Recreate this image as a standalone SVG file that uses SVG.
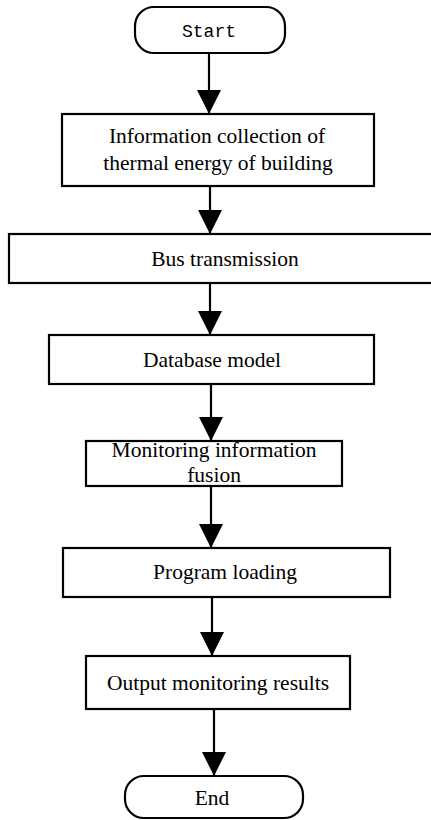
<svg xmlns="http://www.w3.org/2000/svg" width="431" height="820" viewBox="0 0 431 820">
<defs>
<marker id="ah" markerWidth="11" markerHeight="11" refX="11" refY="5.5" orient="auto" markerUnits="strokeWidth">
<path d="M0,0 L11,5.5 L0,11 Z" fill="#000"/>
</marker>
</defs>
<style>
.box{fill:#fff;stroke:#000;stroke-width:2.2}
.t{font-family:"Liberation Serif","Times New Roman",serif;font-size:21.5px;fill:#000;text-anchor:middle}
.m{font-family:"Liberation Mono","Courier New",monospace;font-size:18px;fill:#000;text-anchor:middle}
.c{stroke:#000;stroke-width:2.2;fill:none;marker-end:url(#ah)}
</style>
<rect width="431" height="820" fill="#fff"/>
<g id="connectors">
<line class="c" x1="209" y1="53" x2="209" y2="114"/>
<line class="c" x1="210" y1="186" x2="210" y2="234"/>
<line class="c" x1="210" y1="283" x2="210" y2="335"/>
<line class="c" x1="211" y1="384" x2="211" y2="441"/>
<line class="c" x1="211" y1="486" x2="211" y2="548"/>
<line class="c" x1="212" y1="597" x2="212" y2="656"/>
<line class="c" x1="214" y1="709" x2="214" y2="776"/>
</g>
<g id="start">
<rect class="box" x="135" y="7" width="150" height="46" rx="19"/>
<text class="m" x="209" y="37">Start</text>
</g>
<g id="info">
<rect class="box" x="62" y="114" width="312" height="72"/>
<text class="t" x="217" y="143">Information collection of</text>
<text class="t" x="218" y="170">thermal energy of building</text>
</g>
<g id="bus">
<rect class="box" x="9" y="234" width="425" height="49"/>
<text class="t" x="225" y="266">Bus transmission</text>
</g>
<g id="db">
<rect class="box" x="49" y="335" width="325" height="49"/>
<text class="t" x="212" y="367">Database model</text>
</g>
<g id="fusion">
<rect class="box" x="86" y="441" width="256" height="45"/>
<text class="t" x="214" y="457">Monitoring information</text>
<text class="t" x="214" y="482">fusion</text>
</g>
<g id="program">
<rect class="box" x="63" y="548" width="327" height="49"/>
<text class="t" x="225" y="579">Program loading</text>
</g>
<g id="output">
<rect class="box" x="86" y="656" width="264" height="53"/>
<text class="t" x="218" y="690">Output monitoring results</text>
</g>
<g id="end">
<rect class="box" x="125" y="776" width="178" height="42" rx="19"/>
<text class="t" x="212" y="805">End</text>
</g>
</svg>
